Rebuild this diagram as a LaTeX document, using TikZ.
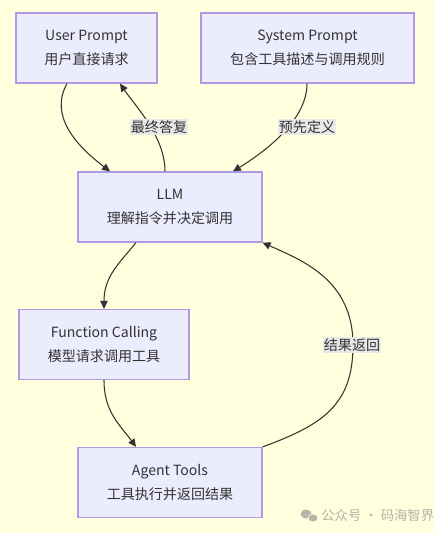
\documentclass[tikz,border=0pt]{standalone}
\usepackage{fontspec}
\setmainfont{Noto Sans CJK SC}
\usetikzlibrary{arrows.meta,calc}
\definecolor{bgyellow}{HTML}{FFFFDE}
\definecolor{boxfill}{HTML}{ECECFF}
\definecolor{boxline}{HTML}{B09AE6}
\definecolor{edgeline}{HTML}{333333}
\definecolor{lblfill}{HTML}{E8E8E8}
\definecolor{wmgray}{HTML}{B4B4A8}

\begin{document}
\begin{tikzpicture}[x=0.02cm,y=-0.02cm,
    box/.style={draw=boxline,fill=boxfill,line width=0.7pt,minimum height=1.4cm,
      align=center,font=\fontsize{8}{13.5}\selectfont,text=edgeline},
    flow/.style={draw=edgeline,line width=0.6pt,-{Triangle[length=4.5pt,width=4.2pt]}},
    lbl/.style={fill=lblfill,inner sep=0.6pt,font=\fontsize{8}{10}\selectfont,text=edgeline}]
    \fill[bgyellow] (0,0) rectangle (434,533);
    \useasboundingbox (0,0) rectangle (434,533);
    % boxes
    \node[box,minimum width=2.82cm] (user) at (86.5,48) {User Prompt\\用户直接请求};
    \node[box,minimum width=4.26cm] (sys) at (307.5,48) {System Prompt\\包含工具描述与调用规则};
    \node[box,minimum width=3.68cm] (llm) at (170,207) {LLM\\理解指令并决定调用};
    \node[box,minimum width=3.4cm] (func) at (104,344.5) {Function Calling\\模型请求调用工具};
    \node[box,minimum width=3.68cm] (tools) at (170,482.5) {Agent Tools\\工具执行并返回结果};
    % edges
    \draw[flow] ($(user.south)+(-19.5,0)$) .. controls +(-18,32) and +(-34,-26) .. ($(llm.north)+(-60,0)$);
    \draw[flow] ($(llm.north)+(-5,0)$) .. controls +(0,-35) and +(15,22) .. ($(user.south)+(33.5,0)$);
    \draw[flow] ($(sys.south)+(-0.5,0)$) .. controls +(0,32) and +(42,-26) .. ($(llm.north)+(63,0)$);
    \draw[flow] ($(llm.south)+(-34,0)$) .. controls +(-18,22) and +(0,-32) .. (func.north);
    \draw[flow] (func.south) .. controls +(0,32) and +(-16,-22) .. ($(tools.north)+(-34,0)$);
    \draw[flow] (tools.north east) .. controls +(60,-22) and +(0,60) .. (353,345)
      .. controls +(0,-65) and +(40,18) .. (llm.south east);
    % labels
    \node[lbl] (lblA) at (159,127) {最终答复};
    \node[lbl] (lblB) at (307,127) {预先定义};
    \node[lbl] (lblC) at (352,345) {结果返回};
    % watermark
    \fill[wmgray] (306,514) ellipse (5.5 and 4.5);
    \fill[wmgray,draw=bgyellow,line width=0.4pt] (313,518) ellipse (5 and 4);
    \node[text=wmgray,font=\fontsize{7.6}{9}\selectfont,anchor=west,inner sep=0] (wm) at (321,515) {公众号 · 码海智界};
\end{tikzpicture}
\end{document}
